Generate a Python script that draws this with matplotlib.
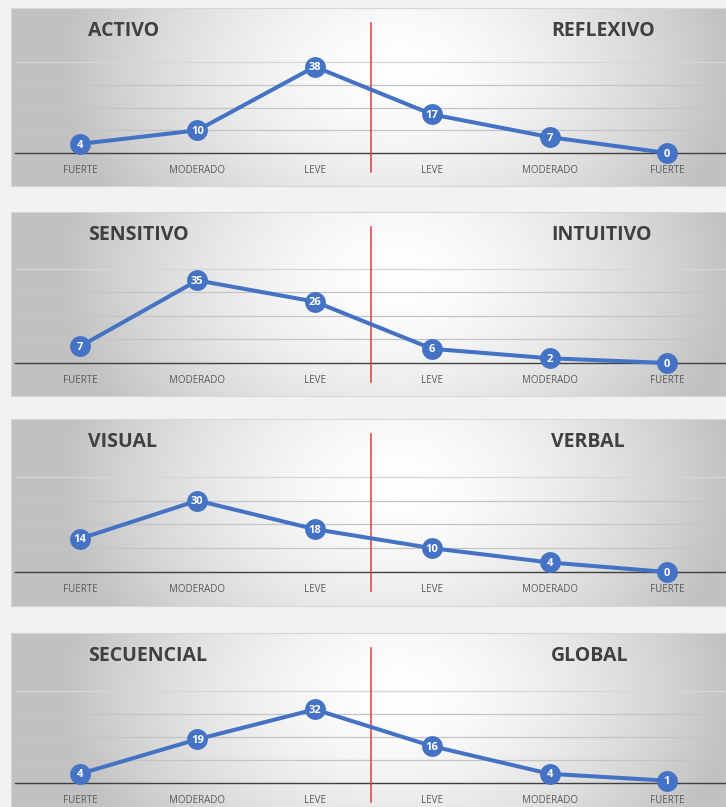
import numpy as np
import matplotlib
matplotlib.use("Agg")
import matplotlib.pyplot as plt

# ---------------------------------------------------------------
# data (4 learning-style dimensions)
# ---------------------------------------------------------------
categories = ["FUERTE", "MODERADO", "LEVE", "LEVE", "MODERADO", "FUERTE"]

left_titles = ["ACTIVO", "SENSITIVO", "VISUAL", "SECUENCIAL"]
right_titles = ["REFLEXIVO", "INTUITIVO", "VERBAL", "GLOBAL"]

activo_reflexivo = [4, 10, 38, 17, 7, 0]
sensitivo_intuitivo = [7, 35, 26, 6, 2, 0]
visual_verbal = [14, 30, 18, 10, 4, 0]
secuencial_global = [4, 19, 32, 16, 4, 1]

series = [activo_reflexivo, sensitivo_intuitivo, visual_verbal, secuencial_global]
grid_levels = [10, 20, 30, 40]

# ---------------------------------------------------------------
# layout (pixels, from top of a 726x807 canvas)
# ---------------------------------------------------------------
W, H = 726, 807
panel_x0, panel_x1 = 11, 726
panels = [  # top, bottom, baseline, px per unit
    (8, 186, 153, 2.27),
    (212, 396, 363, 2.36),
    (419, 606, 572, 2.38),
    (633, 807, 783, 2.30),
]
x_first, x_step = 80, 117.4

BLUE = "#4472C4"
RED = "#E0393E"
TITLE = "#404040"
TICK = "#595959"

plt.rcParams["font.family"] = ["Open Sans", "DejaVu Sans"]

fig = plt.figure(figsize=(W / 100, H / 100), dpi=100)
fig.patch.set_facecolor("#f2f2f2")

# soft radial gradient used behind each panel
gx = np.linspace(0, 1, 300)
gy = np.linspace(0, 1, 80)
GX, GY = np.meshgrid(gx, gy)
d = np.sqrt(((GX - 0.54) / 0.47) ** 2 + ((GY - 0.35) / 1.3) ** 2)
shade = 1 - 0.24 * np.clip(d, 0, 1) ** 1.6
grad = np.dstack([shade, shade, shade])

for k, (top, bottom, base, ppu) in enumerate(panels):
    rect = [panel_x0 / W, 1 - bottom / H, (panel_x1 - panel_x0) / W, (bottom - top) / H]
    ax = fig.add_axes(rect)
    ax.imshow(grad, extent=[0, 1, 0, 1], transform=ax.transAxes,
              aspect="auto", zorder=0, interpolation="bicubic")

    ax.set_xlim(-(x_first - panel_x0) / x_step, 5 + (panel_x1 - (x_first + 5 * x_step)) / x_step)
    ax.set_ylim(-(bottom - base) / ppu, (base - top) / ppu)

    for g in grid_levels:
        ax.axhline(g, color="#c4c4c4" if g < 40 else "#d6d6d6", lw=0.9, xmin=0.006, zorder=1)
    ax.axhline(0, color="#404040", lw=1.0, xmin=0.006, zorder=1)

    # red divider between the two poles
    ax.plot([2.48, 2.48], [-(19 / ppu), (base - top - 15) / ppu],
            color=RED, lw=1.1, zorder=2)

    xs = np.arange(len(categories))
    vals = series[k]
    ax.plot(xs, vals, color=BLUE, lw=2.9, zorder=3, solid_capstyle="round")
    ax.plot(xs, vals, "o", color=BLUE, ms=15, mec=BLUE, mew=0, zorder=4)
    for x, v in zip(xs, vals):
        ax.annotate(str(v), (x, v), xytext=(0, -0.8), textcoords="offset points",
                    color="white", fontsize=8, fontweight="bold",
                    ha="center", va="center", zorder=5)

    for x, lab in zip(xs, categories):
        ax.annotate(lab, (x, 0), xytext=(0, -12.5), textcoords="offset points",
                    ha="center", va="center", fontsize=7, color=TICK)

    ax.text((88 - panel_x0) / (panel_x1 - panel_x0), 1 - 23 / (bottom - top),
            left_titles[k], transform=ax.transAxes, ha="left", va="center",
            fontsize=14, fontweight="bold", color=TITLE)
    ax.text((551 - panel_x0) / (panel_x1 - panel_x0), 1 - 23 / (bottom - top),
            right_titles[k], transform=ax.transAxes, ha="left", va="center",
            fontsize=14, fontweight="bold", color=TITLE)

    ax.set_xticks([])
    ax.set_yticks([])
    for s in ax.spines.values():
        s.set_color("#d6d6d6")
        s.set_linewidth(0.8)

fig.savefig("out.png", dpi=100, facecolor=fig.get_facecolor())
